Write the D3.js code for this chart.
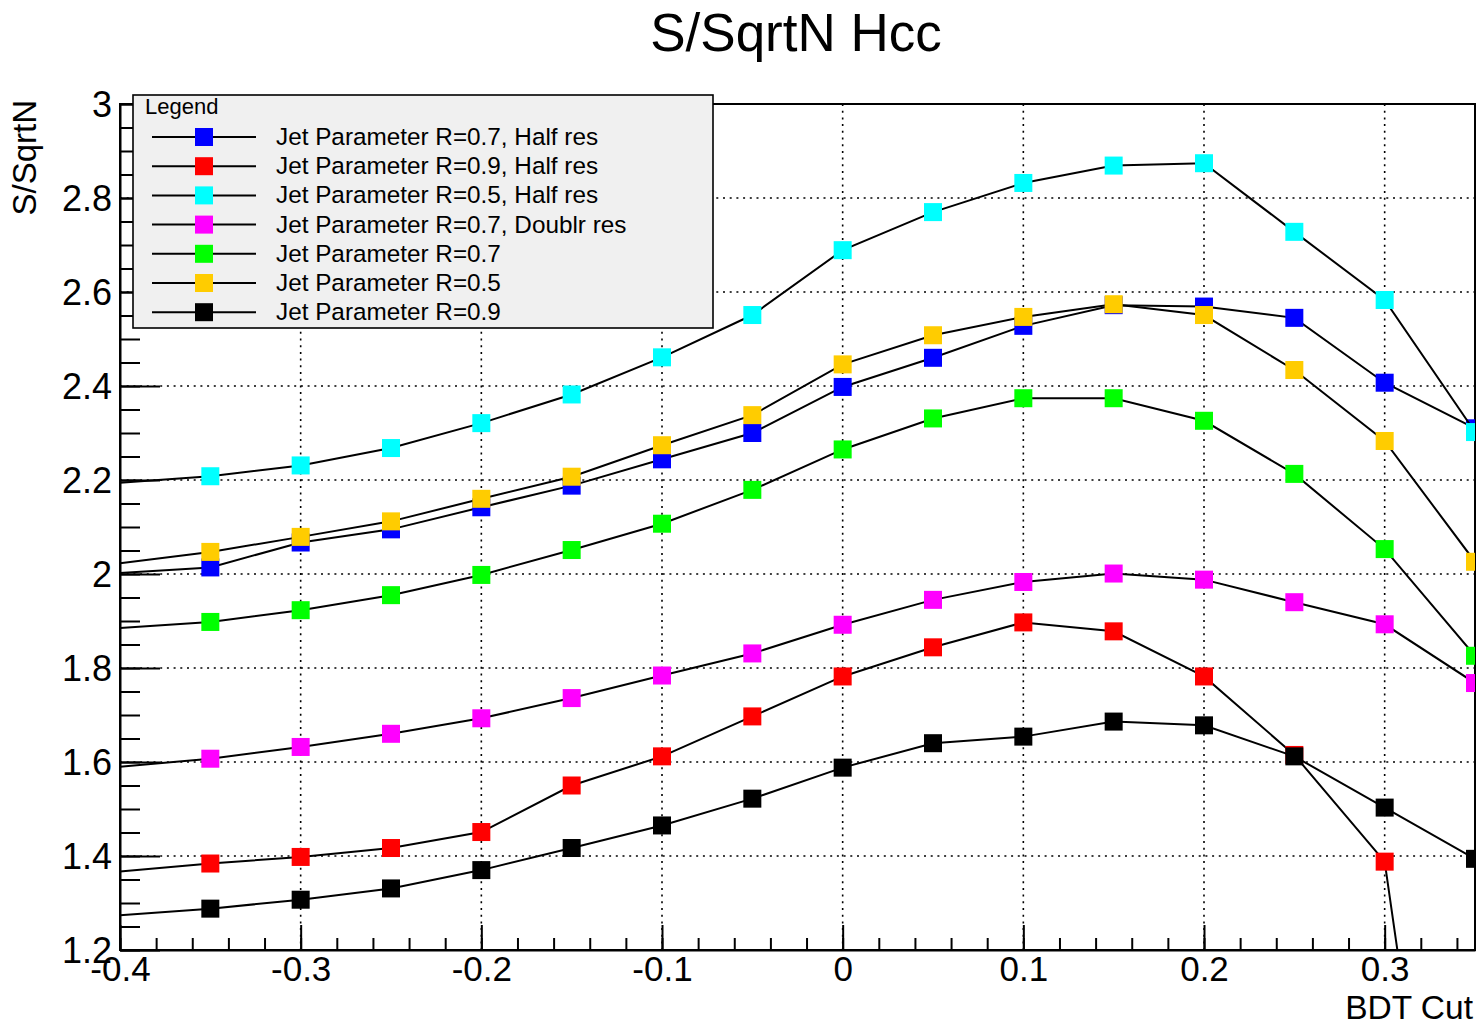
<!DOCTYPE html>
<html>
<head>
<meta charset="utf-8">
<script src="https://cdn.jsdelivr.net/npm/d3@7"></script>
<style>
  html, body { margin: 0; padding: 0; background: #ffffff; }
  svg { display: block; }
  text { font-family: "Liberation Sans", Arial, Helvetica, sans-serif; fill: #000; }
</style>
</head>
<body>
<svg id="chart" width="1479" height="1027"></svg>
<script>
// BDT cut values (first point sits on the left frame edge)
const bdtCut = [-0.4, -0.35, -0.3, -0.25, -0.2, -0.15, -0.1, -0.05, 0, 0.05, 0.1, 0.15, 0.2, 0.25, 0.3, 0.35];

// S/sqrt(N) per jet configuration
const r07Half   = [2.002, 2.014, 2.067, 2.095, 2.142, 2.188, 2.244, 2.300, 2.398, 2.460, 2.528, 2.572, 2.569, 2.545, 2.407, 2.310];
const r09Half   = [1.367, 1.384, 1.398, 1.417, 1.451, 1.550, 1.612, 1.697, 1.782, 1.844, 1.897, 1.878, 1.782, 1.615, 1.388, 0.050];
const r05Half   = [2.194, 2.208, 2.231, 2.268, 2.321, 2.382, 2.461, 2.551, 2.689, 2.770, 2.832, 2.869, 2.874, 2.728, 2.583, 2.302];
const r07Double = [1.590, 1.607, 1.632, 1.660, 1.693, 1.736, 1.784, 1.831, 1.892, 1.945, 1.983, 2.001, 1.988, 1.940, 1.893, 1.768];
const r07       = [1.885, 1.898, 1.923, 1.955, 1.998, 2.051, 2.107, 2.179, 2.265, 2.331, 2.374, 2.374, 2.326, 2.213, 2.053, 1.826];
const r05       = [2.023, 2.047, 2.079, 2.112, 2.160, 2.207, 2.274, 2.338, 2.446, 2.508, 2.547, 2.574, 2.551, 2.434, 2.283, 2.026];
const r09       = [1.274, 1.288, 1.307, 1.331, 1.370, 1.417, 1.465, 1.522, 1.588, 1.640, 1.654, 1.686, 1.678, 1.612, 1.503, 1.394];

const seriesNames = [
  "Jet Parameter R=0.7, Half res",
  "Jet Parameter R=0.9, Half res",
  "Jet Parameter R=0.5, Half res",
  "Jet Parameter R=0.7, Doublr res",
  "Jet Parameter R=0.7",
  "Jet Parameter R=0.5",
  "Jet Parameter R=0.9"
];
const seriesValues = [r07Half, r09Half, r05Half, r07Double, r07, r05, r09];
const seriesColors = ["#0000ff", "#ff0000", "#00ffff", "#ff00ff", "#00ff00", "#ffcc00", "#000000"];

// Axis ticks and labels
const xTicks = [-0.4, -0.3, -0.2, -0.1, 0, 0.1, 0.2, 0.3];
const xTickLabels = ["-0.4", "-0.3", "-0.2", "-0.1", "0", "0.1", "0.2", "0.3"];
const yTicks = [1.2, 1.4, 1.6, 1.8, 2.0, 2.2, 2.4, 2.6, 2.8, 3.0];
const yTickLabels = ["1.2", "1.4", "1.6", "1.8", "2", "2.2", "2.4", "2.6", "2.8", "3"];

const titleText = "S/SqrtN Hcc";
const xTitle = "BDT Cut";
const yTitle = "S/SqrtN";

// ---- layout ----
const frame = { left: 120, right: 1475, top: 104, bottom: 950 };
const svg = d3.select("#chart");

const x = d3.scaleLinear().domain([-0.4, 0.35]).range([frame.left, frame.right]);
const y = d3.scaleLinear().domain([1.2, 3.0]).range([frame.bottom, frame.top]);

svg.append("defs").append("clipPath").attr("id", "frameClip")
  .append("rect")
  .attr("x", frame.left).attr("y", frame.top)
  .attr("width", frame.right - frame.left).attr("height", frame.bottom - frame.top);

// dotted grid
const grid = svg.append("g").attr("stroke", "#000").attr("stroke-width", 1.6)
  .attr("stroke-dasharray", "2,4.7").attr("fill", "none");
xTicks.filter(v => v > -0.4).forEach(v => {
  grid.append("line").attr("x1", x(v)).attr("x2", x(v)).attr("y1", frame.top).attr("y2", frame.bottom);
});
yTicks.filter(v => v > 1.2 && v < 3.0).forEach(v => {
  grid.append("line").attr("x1", frame.left).attr("x2", frame.right).attr("y1", y(v)).attr("y2", y(v));
});

// frame
svg.append("rect")
  .attr("x", frame.left).attr("y", frame.top)
  .attr("width", frame.right - frame.left).attr("height", frame.bottom - frame.top)
  .attr("fill", "none").attr("stroke", "#000").attr("stroke-width", 2);

// x axis: major ticks every 0.1, minor every 0.02
const xMinor = d3.range(-0.4, 0.3501, 0.02).map(v => +v.toFixed(2));
svg.append("g").attr("transform", `translate(0,${frame.bottom})`)
  .call(d3.axisBottom(x).tickValues(xMinor).tickSize(-12).tickSizeOuter(0).tickFormat(""))
  .call(g => g.select(".domain").remove())
  .call(g => g.selectAll("line").attr("stroke", "#000").attr("stroke-width", 2));

svg.append("g").attr("transform", `translate(0,${frame.bottom})`)
  .call(d3.axisBottom(x).tickValues(xTicks).tickSize(-25).tickSizeOuter(0).tickPadding(10)
    .tickFormat((d, i) => xTickLabels[i]))
  .call(g => g.select(".domain").attr("stroke", "#000").attr("stroke-width", 2))
  .call(g => g.selectAll("line").attr("stroke", "#000").attr("stroke-width", 2))
  .call(g => g.selectAll("text").attr("font-size", 35).attr("dy", "0.72em").attr("y", 6)
    .style("font-family", "'Liberation Sans', Arial, sans-serif"));

// y axis: major ticks every 0.2, minor every 0.05
const yMinor = d3.range(1.2, 3.0001, 0.05).map(v => +v.toFixed(2));
svg.append("g").attr("transform", `translate(${frame.left},0)`)
  .call(d3.axisLeft(y).tickValues(yMinor).tickSize(-20).tickSizeOuter(0).tickFormat(""))
  .call(g => g.select(".domain").remove())
  .call(g => g.selectAll("line").attr("stroke", "#000").attr("stroke-width", 2));

svg.append("g").attr("transform", `translate(${frame.left},0)`)
  .call(d3.axisLeft(y).tickValues(yTicks).tickSize(-40).tickSizeOuter(0).tickPadding(8)
    .tickFormat((d, i) => yTickLabels[i]))
  .call(g => g.select(".domain").attr("stroke", "#000").attr("stroke-width", 2))
  .call(g => g.selectAll("line").attr("stroke", "#000").attr("stroke-width", 2))
  .call(g => g.selectAll("text").attr("font-size", 36).attr("x", -8).attr("dy", "0.36em")
    .style("font-family", "'Liberation Sans', Arial, sans-serif"));

// graphs: line then markers, in series order
const plot = svg.append("g").attr("clip-path", "url(#frameClip)");
const lineGen = d3.line().x(d => x(d[0])).y(d => y(d[1]));
const markerSize = 18;

seriesValues.forEach((vals, si) => {
  const pts = bdtCut.map((c, i) => [c, vals[i]]);
  plot.append("path").datum(pts)
    .attr("d", lineGen)
    .attr("fill", "none").attr("stroke", "#000").attr("stroke-width", 2);
  // markers whose centre lies on the lower x bound are not drawn
  plot.selectAll(null).data(pts.filter(p => p[0] > x.domain()[0] + 1e-9))
    .enter().append("rect")
    .attr("x", d => x(d[0]) - markerSize / 2)
    .attr("y", d => y(d[1]) - markerSize / 2)
    .attr("width", markerSize).attr("height", markerSize)
    .attr("fill", seriesColors[si]);
});

// title and axis titles
svg.append("text").attr("x", 796).attr("y", 51).attr("text-anchor", "middle")
  .attr("font-size", 53).text(titleText);
svg.append("text").attr("x", 1473).attr("y", 1019).attr("text-anchor", "end")
  .attr("font-size", 33.5).text(xTitle);
svg.append("text").attr("transform", "translate(36,100) rotate(-90)").attr("text-anchor", "end")
  .attr("font-size", 33).text(yTitle);

// legend
const legend = svg.append("g");
legend.append("rect").attr("x", 133).attr("y", 95).attr("width", 580).attr("height", 233)
  .attr("fill", "#f0f0f0").attr("stroke", "#000").attr("stroke-width", 1.6);
legend.append("text").attr("x", 145).attr("y", 114).attr("font-size", 22).text("Legend");
seriesNames.forEach((name, i) => {
  const cy = 137 + i * 29.2;
  legend.append("line").attr("x1", 152).attr("x2", 256).attr("y1", cy).attr("y2", cy)
    .attr("stroke", "#000").attr("stroke-width", 2);
  legend.append("rect").attr("x", 204 - markerSize / 2).attr("y", cy - markerSize / 2)
    .attr("width", markerSize).attr("height", markerSize).attr("fill", seriesColors[i]);
  legend.append("text").attr("x", 276).attr("y", cy + 8).attr("font-size", 24.3).text(name);
});
</script>
</body>
</html>
